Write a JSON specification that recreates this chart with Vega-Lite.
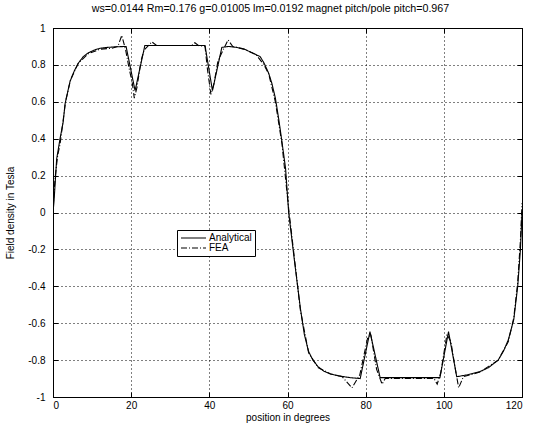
{
  "$schema": "https://vega.github.io/schema/vega-lite/v6.json",
  "width": 469,
  "height": 369,
  "autosize": "none",
  "padding": {"left": 53, "top": 28, "right": 12, "bottom": 38},
  "background": "white",
  "title": {
    "text": "ws=0.0144 Rm=0.176 g=0.01005 lm=0.0192 magnet pitch/pole pitch=0.967",
    "font": "Liberation Sans",
    "fontSize": 10.7,
    "fontWeight": "normal",
    "color": "black",
    "anchor": "middle",
    "dx": -17,
    "offset": 8
  },
  "config": {
    "view": {"stroke": "black", "strokeWidth": 1},
    "axis": {
      "domainColor": "black",
      "tickColor": "black",
      "labelColor": "black",
      "titleColor": "black",
      "labelFont": "Liberation Sans",
      "titleFont": "Liberation Sans",
      "labelFontSize": 10,
      "titleFontSize": 10,
      "titleFontWeight": "normal",
      "gridColor": "black",
      "gridOpacity": 1,
      "gridDash": [1, 3],
      "gridWidth": 1
    }
  },
  "datasets": {
    "curves": [
      {"x": 0, "y": 0, "series": "Analytical"},
      {"x": 0.26, "y": 0.06, "series": "Analytical"},
      {"x": 0.94, "y": 0.29, "series": "Analytical"},
      {"x": 1.8, "y": 0.4, "series": "Analytical"},
      {"x": 2.6, "y": 0.49, "series": "Analytical"},
      {"x": 3.1, "y": 0.59, "series": "Analytical"},
      {"x": 4.35, "y": 0.71, "series": "Analytical"},
      {"x": 5.5, "y": 0.77, "series": "Analytical"},
      {"x": 6.5, "y": 0.81, "series": "Analytical"},
      {"x": 7.75, "y": 0.845, "series": "Analytical"},
      {"x": 9, "y": 0.865, "series": "Analytical"},
      {"x": 10.5, "y": 0.88, "series": "Analytical"},
      {"x": 12, "y": 0.89, "series": "Analytical"},
      {"x": 14, "y": 0.895, "series": "Analytical"},
      {"x": 16, "y": 0.898, "series": "Analytical"},
      {"x": 18.7, "y": 0.9, "series": "Analytical"},
      {"x": 21, "y": 0.66, "series": "Analytical"},
      {"x": 23.5, "y": 0.905, "series": "Analytical"},
      {"x": 30, "y": 0.905, "series": "Analytical"},
      {"x": 38.9, "y": 0.905, "series": "Analytical"},
      {"x": 40.8, "y": 0.66, "series": "Analytical"},
      {"x": 43.2, "y": 0.895, "series": "Analytical"},
      {"x": 45, "y": 0.9, "series": "Analytical"},
      {"x": 47, "y": 0.895, "series": "Analytical"},
      {"x": 49, "y": 0.885, "series": "Analytical"},
      {"x": 50.5, "y": 0.87, "series": "Analytical"},
      {"x": 52, "y": 0.855, "series": "Analytical"},
      {"x": 53, "y": 0.845, "series": "Analytical"},
      {"x": 54, "y": 0.81, "series": "Analytical"},
      {"x": 55.2, "y": 0.754, "series": "Analytical"},
      {"x": 56, "y": 0.7, "series": "Analytical"},
      {"x": 56.9, "y": 0.62, "series": "Analytical"},
      {"x": 57.8, "y": 0.5, "series": "Analytical"},
      {"x": 58.6, "y": 0.38, "series": "Analytical"},
      {"x": 59.5, "y": 0.24, "series": "Analytical"},
      {"x": 60.3, "y": 0.0, "series": "Analytical"},
      {"x": 61.2, "y": -0.16, "series": "Analytical"},
      {"x": 62, "y": -0.3, "series": "Analytical"},
      {"x": 63.3, "y": -0.52, "series": "Analytical"},
      {"x": 64.3, "y": -0.66, "series": "Analytical"},
      {"x": 65.4, "y": -0.754, "series": "Analytical"},
      {"x": 66.5, "y": -0.8, "series": "Analytical"},
      {"x": 67.8, "y": -0.835, "series": "Analytical"},
      {"x": 69.3, "y": -0.86, "series": "Analytical"},
      {"x": 71, "y": -0.875, "series": "Analytical"},
      {"x": 73, "y": -0.885, "series": "Analytical"},
      {"x": 76, "y": -0.895, "series": "Analytical"},
      {"x": 78.6, "y": -0.9, "series": "Analytical"},
      {"x": 81.1, "y": -0.646, "series": "Analytical"},
      {"x": 83.7, "y": -0.895, "series": "Analytical"},
      {"x": 90, "y": -0.895, "series": "Analytical"},
      {"x": 99, "y": -0.895, "series": "Analytical"},
      {"x": 101.2, "y": -0.646, "series": "Analytical"},
      {"x": 103.3, "y": -0.89, "series": "Analytical"},
      {"x": 106, "y": -0.88, "series": "Analytical"},
      {"x": 109.2, "y": -0.863, "series": "Analytical"},
      {"x": 111.5, "y": -0.84, "series": "Analytical"},
      {"x": 113.9, "y": -0.8, "series": "Analytical"},
      {"x": 115.3, "y": -0.75, "series": "Analytical"},
      {"x": 116.5, "y": -0.69, "series": "Analytical"},
      {"x": 117.9, "y": -0.58, "series": "Analytical"},
      {"x": 118.9, "y": -0.4, "series": "Analytical"},
      {"x": 119.6, "y": -0.2, "series": "Analytical"},
      {"x": 120, "y": 0, "series": "Analytical"},

      {"x": 0, "y": 0.02, "series": "FEA"},
      {"x": 0.3, "y": 0.12, "series": "FEA"},
      {"x": 0.6, "y": 0.2, "series": "FEA"},
      {"x": 1.2, "y": 0.31, "series": "FEA"},
      {"x": 1.8, "y": 0.37, "series": "FEA"},
      {"x": 2.6, "y": 0.5, "series": "FEA"},
      {"x": 3.2, "y": 0.6, "series": "FEA"},
      {"x": 4.5, "y": 0.72, "series": "FEA"},
      {"x": 6.5, "y": 0.81, "series": "FEA"},
      {"x": 9, "y": 0.86, "series": "FEA"},
      {"x": 12, "y": 0.885, "series": "FEA"},
      {"x": 15, "y": 0.89, "series": "FEA"},
      {"x": 16.6, "y": 0.9, "series": "FEA"},
      {"x": 17.6, "y": 0.96, "series": "FEA"},
      {"x": 18.6, "y": 0.88, "series": "FEA"},
      {"x": 19.3, "y": 0.8, "series": "FEA"},
      {"x": 20.3, "y": 0.7, "series": "FEA"},
      {"x": 20.8, "y": 0.62, "series": "FEA"},
      {"x": 21.5, "y": 0.68, "series": "FEA"},
      {"x": 22.5, "y": 0.82, "series": "FEA"},
      {"x": 23.3, "y": 0.88, "series": "FEA"},
      {"x": 25.3, "y": 0.925, "series": "FEA"},
      {"x": 26.5, "y": 0.905, "series": "FEA"},
      {"x": 35.5, "y": 0.905, "series": "FEA"},
      {"x": 36.3, "y": 0.92, "series": "FEA"},
      {"x": 37.2, "y": 0.905, "series": "FEA"},
      {"x": 38.9, "y": 0.9, "series": "FEA"},
      {"x": 39.5, "y": 0.78, "series": "FEA"},
      {"x": 40.4, "y": 0.64, "series": "FEA"},
      {"x": 41.2, "y": 0.7, "series": "FEA"},
      {"x": 42.2, "y": 0.82, "series": "FEA"},
      {"x": 43.5, "y": 0.88, "series": "FEA"},
      {"x": 44.8, "y": 0.935, "series": "FEA"},
      {"x": 46, "y": 0.9, "series": "FEA"},
      {"x": 49, "y": 0.885, "series": "FEA"},
      {"x": 52, "y": 0.855, "series": "FEA"},
      {"x": 54, "y": 0.8, "series": "FEA"},
      {"x": 55.2, "y": 0.75, "series": "FEA"},
      {"x": 56.9, "y": 0.6, "series": "FEA"},
      {"x": 58.6, "y": 0.37, "series": "FEA"},
      {"x": 60.3, "y": 0.02, "series": "FEA"},
      {"x": 62, "y": -0.29, "series": "FEA"},
      {"x": 63.3, "y": -0.53, "series": "FEA"},
      {"x": 65.4, "y": -0.76, "series": "FEA"},
      {"x": 67.8, "y": -0.84, "series": "FEA"},
      {"x": 71, "y": -0.875, "series": "FEA"},
      {"x": 74, "y": -0.89, "series": "FEA"},
      {"x": 76.5, "y": -0.95, "series": "FEA"},
      {"x": 78.5, "y": -0.88, "series": "FEA"},
      {"x": 80.5, "y": -0.68, "series": "FEA"},
      {"x": 81.3, "y": -0.66, "series": "FEA"},
      {"x": 82.8, "y": -0.85, "series": "FEA"},
      {"x": 84.2, "y": -0.93, "series": "FEA"},
      {"x": 85, "y": -0.9, "series": "FEA"},
      {"x": 97.5, "y": -0.9, "series": "FEA"},
      {"x": 98.3, "y": -0.93, "series": "FEA"},
      {"x": 99.2, "y": -0.87, "series": "FEA"},
      {"x": 100.8, "y": -0.66, "series": "FEA"},
      {"x": 101.8, "y": -0.7, "series": "FEA"},
      {"x": 103.2, "y": -0.88, "series": "FEA"},
      {"x": 103.8, "y": -0.95, "series": "FEA"},
      {"x": 105, "y": -0.89, "series": "FEA"},
      {"x": 109.2, "y": -0.865, "series": "FEA"},
      {"x": 113.9, "y": -0.8, "series": "FEA"},
      {"x": 116.5, "y": -0.7, "series": "FEA"},
      {"x": 117.9, "y": -0.57, "series": "FEA"},
      {"x": 118.9, "y": -0.38, "series": "FEA"},
      {"x": 119.6, "y": -0.15, "series": "FEA"},
      {"x": 120, "y": 0.05, "series": "FEA"}
    ]
  },
  "data": {"name": "curves"},
  "layer": [
    {
      "mark": {"type": "line", "strokeWidth": 1.1, "clip": true},
      "encoding": {
        "x": {
          "field": "x", "type": "quantitative",
          "scale": {"domain": [0, 120], "nice": false},
          "axis": {"values": [0, 20, 40, 60, 80, 100, 120], "grid": true, "title": "position in degrees", "tickSize": -5, "labelPadding": 8, "titlePadding": 2, "domain": false}
        },
        "y": {
          "field": "y", "type": "quantitative",
          "scale": {"domain": [-1, 1], "nice": false},
          "axis": {"values": [-1, -0.8, -0.6, -0.4, -0.2, 0, 0.2, 0.4, 0.6, 0.8, 1], "grid": true, "title": "Field density in Tesla", "tickSize": -5, "labelPadding": 13, "titlePadding": 12, "domain": false, "labelExpr": "replace(format(datum.value, '~g'), '\u2212', '-')"}
        },
        "color": {
          "field": "series", "type": "nominal",
          "scale": {"domain": ["Analytical", "FEA"], "range": ["black", "black"]},
          "legend": {
            "title": null, "orient": "none", "legendX": 124, "legendY": 202,
            "direction": "vertical", "symbolType": "stroke", "symbolSize": 625,
            "symbolStrokeWidth": 1.1, "labelFont": "Liberation Sans", "labelFontSize": 10,
            "labelColor": "black", "strokeColor": "black", "fillColor": "white",
            "padding": 3, "rowPadding": 0, "labelOffset": 2, "clipHeight": 10
          }
        },
        "strokeDash": {
          "field": "series", "type": "nominal",
          "scale": {"domain": ["Analytical", "FEA"], "range": [[1, 0], [6, 2, 1, 2]]},
          "legend": {
            "title": null, "orient": "none", "legendX": 124, "legendY": 202,
            "direction": "vertical", "symbolType": "stroke", "symbolSize": 625,
            "symbolStrokeWidth": 1.1, "labelFont": "Liberation Sans", "labelFontSize": 10,
            "labelColor": "black", "strokeColor": "black", "fillColor": "white",
            "padding": 3, "rowPadding": 0, "labelOffset": 2, "clipHeight": 10
          }
        }
      }
    },
    {
      "mark": {"type": "line", "opacity": 0},
      "encoding": {
        "x": {
          "field": "x", "type": "quantitative",
          "axis": {"orient": "top", "values": [0, 20, 40, 60, 80, 100, 120], "labels": false, "title": null, "grid": false, "tickSize": -5, "domain": false}
        },
        "y": {
          "field": "y", "type": "quantitative",
          "axis": {"orient": "right", "values": [-1, -0.8, -0.6, -0.4, -0.2, 0, 0.2, 0.4, 0.6, 0.8, 1], "labels": false, "title": null, "grid": false, "tickSize": -5, "domain": false}
        },
        "detail": {"field": "series", "type": "nominal"}
      }
    }
  ],
  "resolve": {"axis": {"x": "independent", "y": "independent"}}
}
